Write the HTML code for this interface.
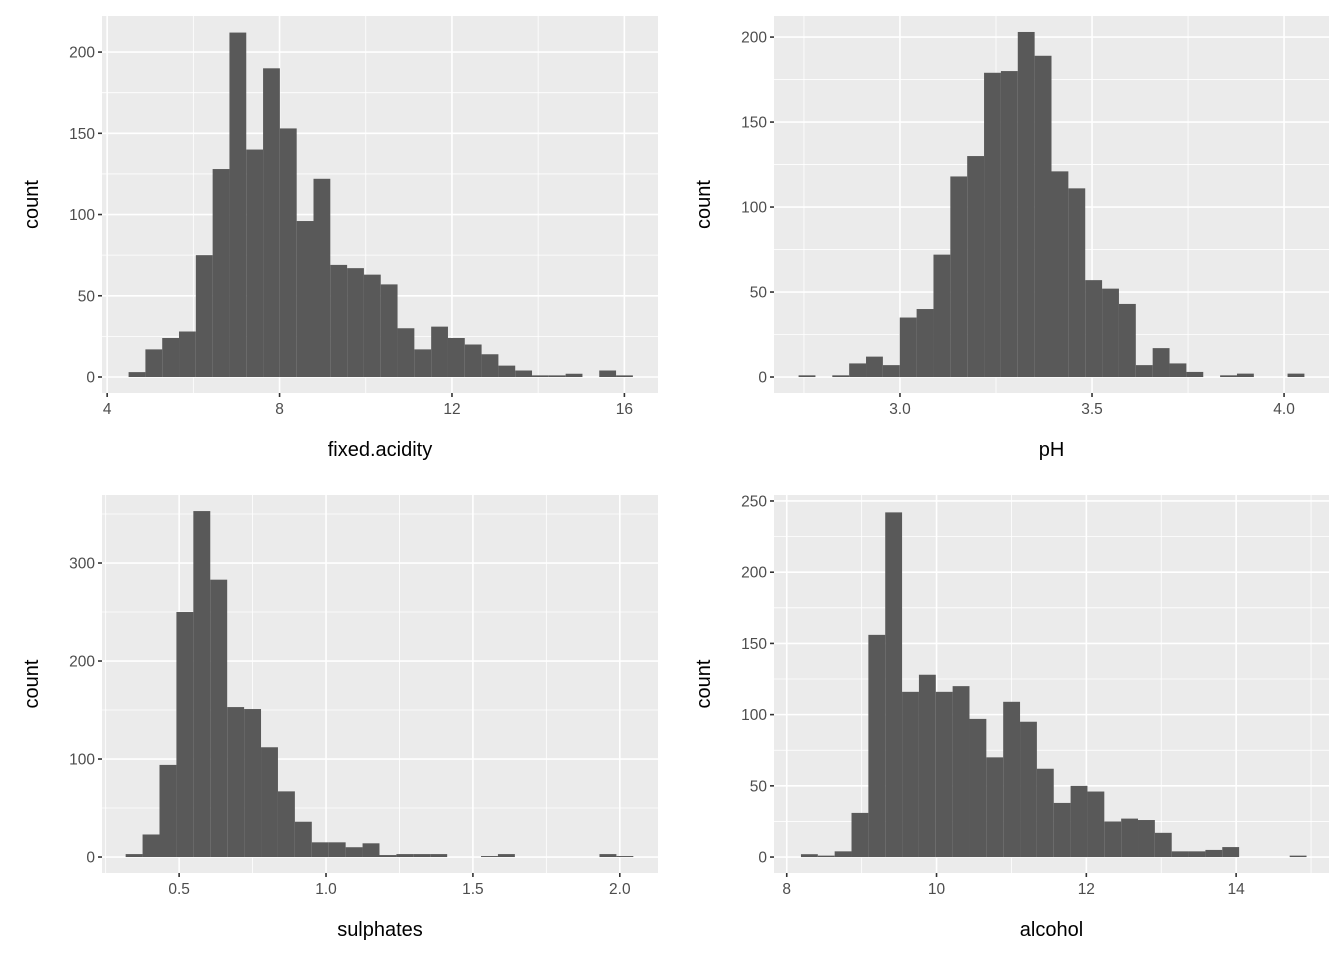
<!DOCTYPE html>
<html><head><meta charset="utf-8">
<style>
html,body{margin:0;padding:0;background:#fff;}
svg{display:block;font-family:"Liberation Sans",Arial,sans-serif;}
</style></head>
<body>
<svg id="root" width="1344" height="960" xmlns="http://www.w3.org/2000/svg"></svg>
<script>
// fixed.acidity panel
const acidityCounts = [3,17,24,28,75,128,212,140,190,153,96,122,69,67,63,57,30,17,31,24,20,14,7,4,1,1,2,0,4,1];
const acidityTicksX = [4,8,12,16];
const acidityTicksY = [0,50,100,150,200];
// pH panel
const phCounts = [1,0,1,8,12,7,35,40,72,118,130,179,180,203,189,121,111,57,52,43,7,17,8,3,0,1,2,0,0,2];
const phTicksX = [3.0,3.5,4.0];
const phTickLabelsX = ["3.0","3.5","4.0"];
const phTicksY = [0,50,100,150,200];
// sulphates panel
const sulphCounts = [3,23,94,250,353,283,153,151,112,67,36,15,15,10,14,2,3,3,3,0,0,1,3,0,0,0,0,0,3,1];
const sulphTicksX = [0.5,1.0,1.5,2.0];
const sulphTickLabelsX = ["0.5","1.0","1.5","2.0"];
const sulphTicksY = [0,100,200,300];
// alcohol panel
const alcoholCounts = [2,1,4,31,156,242,116,128,116,120,97,70,109,95,62,38,50,46,25,27,26,17,4,4,5,7,0,0,0,1];
const alcoholTicksX = [8,10,12,14];
const alcoholTicksY = [0,50,100,150,200,250];

const NS="http://www.w3.org/2000/svg";
const root=document.getElementById('root');
function mk(tag,attrs,parent){const e=document.createElementNS(NS,tag);for(const k in attrs)e.setAttribute(k,attrs[k]);(parent||root).appendChild(e);return e;}

const panels=[
 {name:'fixed-acidity',title:'fixed.acidity',counts:acidityCounts,start:4.497,bw:0.39,tx:acidityTicksX,txl:acidityTicksX.map(String),ty:acidityTicksY,
  box:[102,16,658,393],xd:[3.88,16.78],yd:[-9.85,222.2]},
 {name:'ph',title:'pH',counts:phCounts,start:2.736,bw:0.0439,tx:phTicksX,txl:phTickLabelsX,ty:phTicksY,
  box:[774,16,1329,393],xd:[2.672,4.117],yd:[-9.4,212.4]},
 {name:'sulphates',title:'sulphates',counts:sulphCounts,start:0.318,bw:0.0576,tx:sulphTicksX,txl:sulphTickLabelsX,ty:sulphTicksY,
  box:[102,495,658,873],xd:[0.2375,2.13],yd:[-16.3,369.4]},
 {name:'alcohol',title:'alcohol',counts:alcoholCounts,start:8.19,bw:0.225,tx:alcoholTicksX,txl:alcoholTicksX.map(String),ty:alcoholTicksY,
  box:[774,495,1329,873],xd:[7.83,15.24],yd:[-11.2,254.2]}
];

panels.forEach(p=>{
 const [x0,y0,x1,y1]=p.box;
 const sx=v=>x0+(v-p.xd[0])/(p.xd[1]-p.xd[0])*(x1-x0);
 const sy=v=>y1-(v-p.yd[0])/(p.yd[1]-p.yd[0])*(y1-y0);
 const g=mk('g',{});
 
 
 const bg=mk('rect',{x:x0,y:y0,width:x1-x0,height:y1-y0,fill:'#ebebeb'},g);
 
 
 // minor grid
 const dx=p.tx[1]-p.tx[0], dy=p.ty[1]-p.ty[0];
 for(let v=p.tx[0]-dx*1.5; v<=p.xd[1]; v+=dx){ if(v>=p.xd[0]){const X=sx(v);
  const l=mk('line',{x1:X,x2:X,y1:y0,y2:y1,stroke:'#fff','stroke-width':0.8},g);
  
  }}
 for(let v=p.ty[0]-dy*1.5; v<=p.yd[1]; v+=dy){ if(v>=p.yd[0]){const Y=sy(v);
  const l=mk('line',{x1:x0,x2:x1,y1:Y,y2:Y,stroke:'#fff','stroke-width':0.8},g);
  
  }}
 p.tx.forEach(v=>{const X=sx(v);
  const l=mk('line',{x1:X,x2:X,y1:y0,y2:y1,stroke:'#fff','stroke-width':1.6},g);
  
  });
 p.ty.forEach(v=>{const Y=sy(v);
  const l=mk('line',{x1:x0,x2:x1,y1:Y,y2:Y,stroke:'#fff','stroke-width':1.6},g);
  
  });
 // bars
 p.counts.forEach((c,i)=>{ if(c<=0) return;
  const a=sx(p.start+i*p.bw), b=sx(p.start+(i+1)*p.bw);
  const r=mk('rect',{x:a,y:sy(c),width:b-a,height:sy(0)-sy(c),fill:'#595959'},g);
  
  });
 // ticks & labels
 p.tx.forEach((v,i)=>{const X=sx(v);
  const t=mk('line',{x1:X,x2:X,y1:y1,y2:y1+4,stroke:'#333','stroke-width':1.6},g);
  
  
  const tl=mk('text',{x:X,y:y1+21,'text-anchor':'middle','font-size':'15.5',fill:'#4d4d4d'},g);
  tl.textContent=p.txl[i];
  
  });
 p.ty.forEach(v=>{const Y=sy(v);
  const t=mk('line',{x1:x0-4,x2:x0,y1:Y,y2:Y,stroke:'#333','stroke-width':1.6},g);
  
  
  const tl=mk('text',{x:x0-7,y:Y+5.5,'text-anchor':'end','font-size':'15.5',fill:'#4d4d4d'},g);
  tl.textContent=String(v);
  
  });
 const xt=mk('text',{x:(x0+x1)/2,y:y1+63,'text-anchor':'middle','font-size':'20',fill:'#000'},g);
 xt.textContent=p.title;
 
 
 const yc=(y0+y1)/2, xx=x0-64;
 const yt=mk('text',{x:xx,y:yc,'text-anchor':'middle','font-size':'20',fill:'#000',transform:'rotate(-90 '+xx+' '+yc+')'},g);
 yt.textContent='count';
 
 
});
</script>
</body></html>
